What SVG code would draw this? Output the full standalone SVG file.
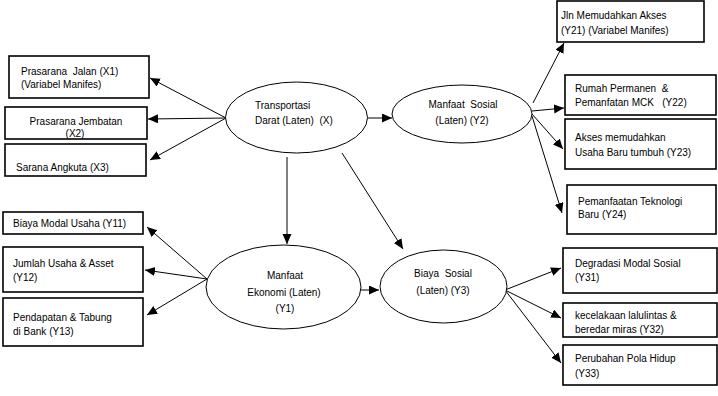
<svg xmlns="http://www.w3.org/2000/svg" width="718" height="396" viewBox="0 0 718 396">
  <defs>
    <marker id="arrow" markerUnits="userSpaceOnUse" markerWidth="11" markerHeight="10" refX="10" refY="4.5" orient="auto">
      <path d="M0,0 L10,4.5 L0,9 z" fill="#000"/>
    </marker>
    <style>
      .box { fill: #fff; stroke: #000; stroke-width: 1.6; }
      .lat { fill: #fff; stroke: #000; stroke-width: 1; }
      .t { font-family: "Liberation Sans", Arial, sans-serif; font-size: 10px; fill: #000; white-space: pre; }
      .c { text-anchor: middle; }
      .edge { stroke: #000; stroke-width: 1; fill: none; marker-end: url(#arrow); }
    </style>
  </defs>
  <rect width="718" height="396" fill="#fff"/>

  <!-- connectors -->
  <g id="connectors">
    <line class="edge" x1="226" y1="118" x2="150" y2="78"/>
    <line class="edge" x1="226" y1="118" x2="148" y2="119"/>
    <line class="edge" x1="226" y1="118" x2="150" y2="160"/>
    <line class="edge" x1="368" y1="118" x2="392" y2="118"/>
    <line class="edge" x1="287" y1="157" x2="287" y2="244"/>
    <line class="edge" x1="342" y1="153" x2="403" y2="249"/>
    <line class="edge" x1="533" y1="103" x2="564" y2="43"/>
    <line class="edge" x1="532" y1="111" x2="564" y2="108"/>
    <line class="edge" x1="532" y1="114" x2="563" y2="149"/>
    <line class="edge" x1="532" y1="116" x2="562" y2="213"/>
    <line class="edge" x1="207" y1="279" x2="147" y2="227"/>
    <line class="edge" x1="207" y1="279" x2="145" y2="270"/>
    <line class="edge" x1="207" y1="279" x2="147" y2="315"/>
    <line class="edge" x1="361" y1="290" x2="379" y2="290"/>
    <line class="edge" x1="505" y1="290" x2="561" y2="268"/>
    <line class="edge" x1="505" y1="290" x2="561" y2="318"/>
    <line class="edge" x1="505" y1="290" x2="561" y2="363"/>
  </g>

  <!-- latent variables -->
  <g id="transportasi">
    <ellipse class="lat" cx="296.5" cy="117.5" rx="71" ry="35.5"/>
    <text class="t" x="255" y="108.5">Transportasi</text>
    <text class="t" x="255" y="124">Darat (Laten)  (X)</text>
  </g>
  <g id="manfaat-sosial">
    <ellipse class="lat" cx="462" cy="114" rx="70" ry="29"/>
    <text class="t c" x="463" y="107.5">Manfaat  Sosial</text>
    <text class="t c" x="462" y="123.5">(Laten) (Y2)</text>
  </g>
  <g id="manfaat-ekonomi">
    <ellipse class="lat" cx="283.5" cy="287" rx="77.5" ry="42"/>
    <text class="t c" x="285" y="278.5">Manfaat</text>
    <text class="t c" x="284" y="295.5">Ekonomi (Laten)</text>
    <text class="t c" x="285" y="311.5">(Y1)</text>
  </g>
  <g id="biaya-sosial">
    <ellipse class="lat" cx="443.5" cy="286.5" rx="63.5" ry="36.5"/>
    <text class="t c" x="443" y="276.5">Biaya  Sosial</text>
    <text class="t c" x="443" y="293.5">(Laten) (Y3)</text>
  </g>

  <!-- manifest variables: transport -->
  <g id="x1">
    <rect class="box" x="9" y="56" width="140" height="42"/>
    <text class="t" x="21" y="75">Prasarana  Jalan (X1)</text>
    <text class="t" x="21" y="88">(Variabel Manifes)</text>
  </g>
  <g id="x2">
    <rect class="box" x="5" y="107" width="142" height="32"/>
    <text class="t c" x="76" y="124.5">Prasarana Jembatan</text>
    <text class="t c" x="75" y="137">(X2)</text>
  </g>
  <g id="x3">
    <rect class="box" x="5" y="144" width="141" height="32"/>
    <text class="t" x="16" y="171">Sarana Angkuta (X3)</text>
  </g>

  <!-- manifest variables: social benefit -->
  <g id="y21">
    <rect class="box" x="557" y="1" width="147" height="41"/>
    <text class="t" x="561" y="18.5">Jln Memudahkan Akses</text>
    <text class="t" x="561" y="33.5">(Y21) (Variabel Manifes)</text>
  </g>
  <g id="y22">
    <rect class="box" x="565" y="75" width="151" height="40"/>
    <text class="t" x="575" y="91.5">Rumah Permanen  &amp;</text>
    <text class="t" x="575" y="105.5">Pemanfatan MCK   (Y22)</text>
  </g>
  <g id="y23">
    <rect class="box" x="565" y="119" width="151" height="50"/>
    <text class="t" x="575" y="140.5">Akses memudahkan</text>
    <text class="t" x="575" y="155.5">Usaha Baru tumbuh (Y23)</text>
  </g>
  <g id="y24">
    <rect class="box" x="567" y="185" width="149" height="49"/>
    <text class="t" x="578" y="204.5">Pemanfaatan Teknologi</text>
    <text class="t" x="578" y="218">Baru (Y24)</text>
  </g>

  <!-- manifest variables: economic benefit -->
  <g id="y11">
    <rect class="box" x="3" y="212" width="140" height="22"/>
    <text class="t" x="13" y="226.5">Biaya Modal Usaha (Y11)</text>
  </g>
  <g id="y12">
    <rect class="box" x="3" y="247" width="140" height="45"/>
    <text class="t" x="13" y="266.5">Jumlah Usaha &amp; Asset</text>
    <text class="t" x="13" y="280.5">(Y12)</text>
  </g>
  <g id="y13">
    <rect class="box" x="3" y="298" width="140" height="48"/>
    <text class="t" x="13" y="320.5">Pendapatan &amp; Tabung</text>
    <text class="t" x="13" y="335">di Bank (Y13)</text>
  </g>

  <!-- manifest variables: social cost -->
  <g id="y31">
    <rect class="box" x="563" y="248" width="154" height="45"/>
    <text class="t" x="575" y="266.5">Degradasi Modal Sosial</text>
    <text class="t" x="575" y="280.5">(Y31)</text>
  </g>
  <g id="y32">
    <rect class="box" x="563" y="303" width="154" height="34"/>
    <text class="t" x="575" y="318.5">kecelakaan lalulintas &amp;</text>
    <text class="t" x="575" y="333">beredar miras (Y32)</text>
  </g>
  <g id="y33">
    <rect class="box" x="563" y="345" width="154" height="40"/>
    <text class="t" x="575" y="361.5">Perubahan Pola Hidup</text>
    <text class="t" x="575" y="376.5">(Y33)</text>
  </g>
</svg>
